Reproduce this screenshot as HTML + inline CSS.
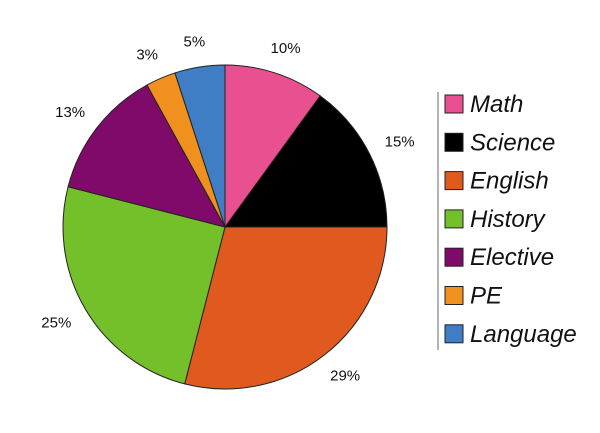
<!DOCTYPE html>
<html><head><meta charset="utf-8">
<style>
html,body{margin:0;padding:0;background:#fff;}
svg{display:block;font-family:"Liberation Sans",sans-serif;}
</style></head>
<body>
<svg id="chart" width="600" height="433" viewBox="0 0 600 433">
<g id="slices"></g>
<g id="labels"></g>
<g id="legend">
<line x1="438" y1="92" x2="438" y2="350" stroke="#999" stroke-width="1.5"/>
</g>
</svg>
<script>
const categories = ["Math","Science","English","History","Elective","PE","Language"];
const values = [10,15,29,25,13,3,5];
const valueLabels = ["10%","15%","29%","25%","13%","3%","5%"];
const colors = ["#e8508f","#000000","#e05a20","#73c02a","#800a6a","#f0901e","#3f7ec4"];

const NS="http://www.w3.org/2000/svg";
const cx=225, cy=227, R=162;
const total = values.reduce((a,b)=>a+b,0);
function pt(angleDeg, r){const a=angleDeg*Math.PI/180;return [cx+r*Math.sin(a), cy-r*Math.cos(a)];}
const sg=document.getElementById('slices'), lg=document.getElementById('labels'), leg=document.getElementById('legend');
let acc=0;
values.forEach((v,i)=>{
  const a0=acc/total*360, a1=(acc+v)/total*360; acc+=v;
  const p0=pt(a0,R), p1=pt(a1,R);
  const large=(a1-a0)>180?1:0;
  const path=document.createElementNS(NS,'path');
  path.setAttribute('d',`M${cx},${cy} L${p0[0]},${p0[1]} A${R},${R} 0 ${large} 1 ${p1[0]},${p1[1]} Z`);
  path.setAttribute('fill',colors[i]);
  path.setAttribute('stroke','#222');
  path.setAttribute('stroke-width','1');
  
  
  sg.appendChild(path);
  const mid=(a0+a1)/2;
  const lp=pt(mid,R+26);
  const sx=Math.sin(mid*Math.PI/180);
  const t=document.createElementNS(NS,'text');
  t.setAttribute('x',lp[0]+sx*8);
  t.setAttribute('y',lp[1]+5);
  t.setAttribute('text-anchor','middle');
  t.setAttribute('font-size','15');
  t.setAttribute('fill','#111');
  t.textContent=valueLabels[i];
  
  
  lg.appendChild(t);
  const y=95+i*38.3;
  const r=document.createElementNS(NS,'rect');
  r.setAttribute('x',445);r.setAttribute('y',y);r.setAttribute('width',18);r.setAttribute('height',18);
  r.setAttribute('fill',colors[i]);r.setAttribute('stroke','#222');r.setAttribute('stroke-width','1');
  
  
  leg.appendChild(r);
  const lt=document.createElementNS(NS,'text');
  lt.setAttribute('x',470);lt.setAttribute('y',y+17);
  lt.setAttribute('font-size','24');lt.setAttribute('font-style','italic');lt.setAttribute('fill','#111');
  lt.textContent=categories[i];
  
  
  leg.appendChild(lt);
});
</script>
</body></html>
